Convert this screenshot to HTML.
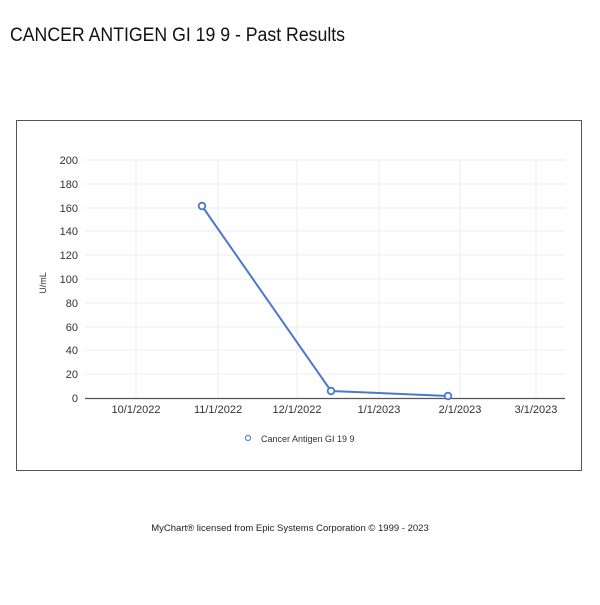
<!DOCTYPE html>
<html><head><style>
body{margin:0;width:600px;height:600px;background:#fff;overflow:hidden}
</style></head><body>
<svg width="600" height="600" xmlns="http://www.w3.org/2000/svg" font-family="Liberation Sans, sans-serif">
<text x="10" y="41" font-size="19" fill="#111" textLength="335" lengthAdjust="spacingAndGlyphs">CANCER ANTIGEN GI 19 9 - Past Results</text>
<rect x="16.5" y="120.5" width="565" height="350" fill="#fff" stroke="#555" stroke-width="1"/>
<g stroke="#ececec" stroke-width="1">
<line x1="85" y1="160" x2="565" y2="160"/><line x1="85" y1="184" x2="565" y2="184"/>
<line x1="85" y1="208" x2="565" y2="208"/><line x1="85" y1="231" x2="565" y2="231"/>
<line x1="85" y1="255" x2="565" y2="255"/><line x1="85" y1="279" x2="565" y2="279"/>
<line x1="85" y1="303" x2="565" y2="303"/><line x1="85" y1="327" x2="565" y2="327"/>
<line x1="85" y1="350" x2="565" y2="350"/><line x1="85" y1="374" x2="565" y2="374"/>
<line x1="136" y1="160" x2="136" y2="398"/><line x1="218" y1="160" x2="218" y2="398"/>
<line x1="297" y1="160" x2="297" y2="398"/><line x1="379" y1="160" x2="379" y2="398"/>
<line x1="460" y1="160" x2="460" y2="398"/><line x1="536" y1="160" x2="536" y2="398"/>
</g>
<line x1="85" y1="398.5" x2="565" y2="398.5" stroke="#555" stroke-width="1.2"/>
<g font-size="11" fill="#333" text-anchor="end">
<text x="78" y="164">200</text><text x="78" y="188">180</text><text x="78" y="212">160</text>
<text x="78" y="235">140</text><text x="78" y="259">120</text><text x="78" y="283">100</text>
<text x="78" y="307">80</text><text x="78" y="331">60</text><text x="78" y="354">40</text>
<text x="78" y="378">20</text><text x="78" y="402">0</text>
</g>
<g font-size="11" fill="#333" text-anchor="middle">
<text x="136" y="413">10/1/2022</text><text x="218" y="413">11/1/2022</text>
<text x="297" y="413">12/1/2022</text><text x="379" y="413">1/1/2023</text>
<text x="460" y="413">2/1/2023</text><text x="536" y="413">3/1/2023</text>
</g>
<text transform="translate(46,283) rotate(-90)" font-size="9" fill="#333" text-anchor="middle">U/mL</text>
<polyline points="202,206 331,391 448,396" fill="none" stroke="#4a78d0" stroke-width="2"/>
<g fill="#fff" stroke="#4a78d0" stroke-width="1.8">
<circle cx="202" cy="206" r="3.3"/><circle cx="331" cy="391" r="3.3"/><circle cx="448" cy="396" r="3.3"/>
</g>
<circle cx="248" cy="438" r="2.5" fill="#fff" stroke="#5b86d4" stroke-width="1.2"/>
<text x="261" y="442" font-size="9" fill="#333">Cancer Antigen GI 19 9</text>
<text x="290" y="531" font-size="9.5" fill="#222" text-anchor="middle">MyChart® licensed from Epic Systems Corporation © 1999 - 2023</text>
</svg>
</body></html>
